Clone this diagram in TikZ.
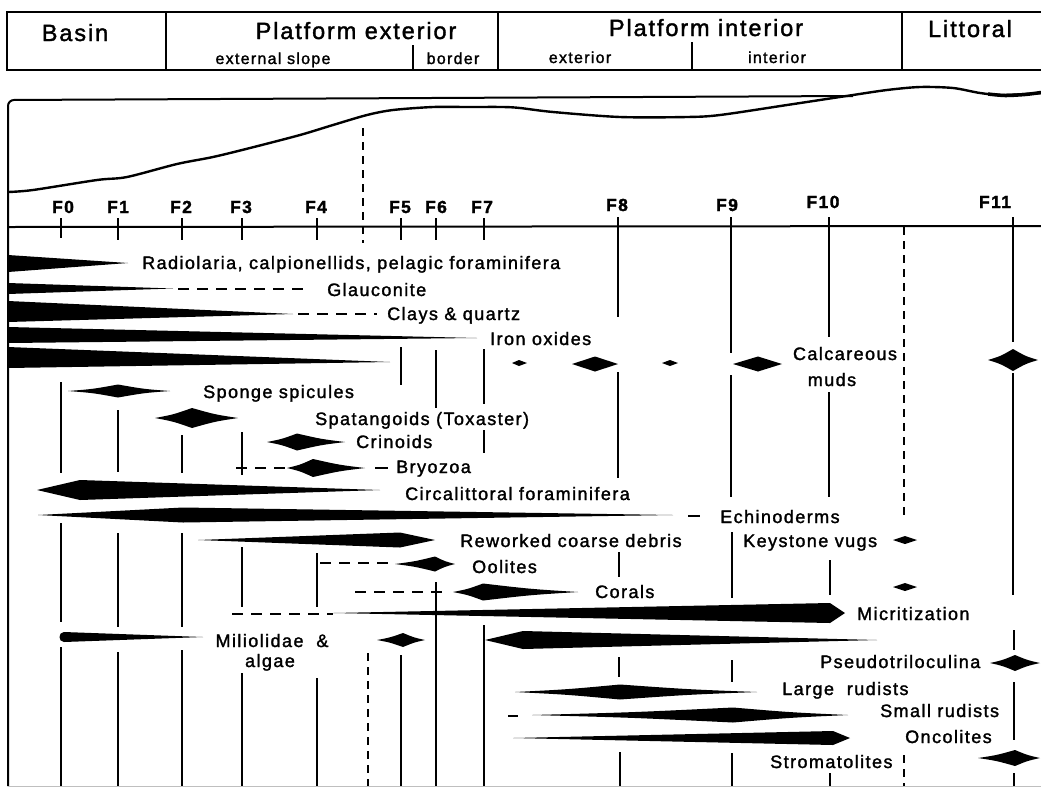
\documentclass[tikz,border=0pt]{standalone}
\usepackage{fontspec}
\setmainfont[LetterSpace=8,FakeBold=1.6]{Liberation Sans}
\newcommand\spdl[6]{\fill (#1,#4) .. controls ({(#1+#2)/2},{#4-#6*#5}) .. (#2,{#4-#5}) .. controls ({(#2+#3)/2},{#4-#6*#5}) .. (#3,#4) .. controls ({(#2+#3)/2},{#4+#6*#5}) .. (#2,{#4+#5}) .. controls ({(#1+#2)/2},{#4+#6*#5}) .. cycle;}
\begin{document}
\begin{tikzpicture}[x=1pt,y=-1pt,
  vl/.style={line width=2.2pt},
  vd/.style={line width=2.2pt,dash pattern=on 8pt off 6pt},
  hd/.style={line width=2pt,dash pattern=on 11pt off 8pt},
  frame/.style={line width=2pt},
  lbl/.style={font=\fontsize{18}{20}\selectfont,inner sep=0pt,anchor=base west},
  lblc/.style={font=\fontsize{18}{20}\selectfont,inner sep=0pt,anchor=base},
  hdr/.style={font=\fontsize{23.5}{26}\selectfont,inner sep=0pt,anchor=base},
  sublbl/.style={font=\fontsize{16}{18}\selectfont,inner sep=0pt,anchor=base},
  flb/.style={font=\bfseries\fontsize{17.5}{19}\selectfont,inner sep=0pt,anchor=base},
]
\useasboundingbox (0,0) rectangle (1041,788);
\fill[white] (0,0) rectangle (1041,788);

% ---------- header ----------
\draw[frame] (1041,12) -- (7,12) -- (7,70) -- (1041,70);
\draw[frame] (166,12) -- (166,70);
\draw[frame] (498,12) -- (498,70);
\draw[frame] (902,12) -- (902,70);
\draw[frame] (413,45) -- (413,70);
\draw[frame] (692,42) -- (692,70);
\node[hdr] (basin) at (75,41) {Basin};
\node[hdr] (pext) at (356,39) {Platform exterior};
\node[sublbl] (eslope) at (273,64) {external slope};
\node[sublbl] (border) at (453,64) {border};
\node[hdr] (pint) at (706,36) {Platform interior};
\node[sublbl] (exter) at (580,63) {exterior};
\node[sublbl] (inter) at (777,63) {interior};
\node[hdr] (litt) at (970,37) {Littoral};

% ---------- profile ----------
\draw[frame,rounded corners=6pt] (8,786) -- (8,100) -- (853,96);
\draw[line width=2.4pt] plot[smooth,tension=0.5] coordinates {(8,192) (33,190) (97,180) (127,177) (177,164) (213,157) (250,148) (300,135) (333,125) (367,115) (393,110) (433,107) (467,107) (503,107) (520,108) (553,112) (620,117) (687,117) (720,115) (787,105) (820,100) (853,95) (887,90) (920,87) (953,88) (980,93) (1003,95) (1041,93)};
\draw[line width=3.5pt] plot[smooth] coordinates {(988,94) (1005,95.5) (1025,94.5) (1041,92.5)};
\draw[vd] (363,128) -- (363,243);

% axis
\draw[frame] (8,227) -- (1041,226);
\foreach \x/\n/\lx/\ly in {61/0/63/213, 118/1/118/213, 182/2/181/213, 242/3/241/213, 317/4/316/213, 400/5/400/213, 436/6/436/213, 484/7/482/213, 618/8/617/211, 731/9/727/211, 829/10/823/208, 1013/11/995/208}
  \node[flb] (f\n) at (\lx,\ly) {F\n};

% ---------- vertical facies lines ----------
\foreach \x/\a/\b in {61/218/238, 61/382/473, 61/523/622, 61/647/786,
  118/218/240, 118/410/472, 118/533/627, 118/652/786,
  182/218/240, 182/435/473, 182/533/627, 182/650/786,
  242/218/240, 242/432/475, 242/547/607, 242/673/786,
  317/218/240, 317/553/607, 317/678/786,
  401/218/240, 401/347/385, 401/655/786,
  436/218/240, 436/350/408, 436/582/786,
  484/218/240, 484/349/404, 484/430/453, 484/625/786,
  618/217/317, 618/372/478, 619/552/577, 619/657/677, 620/752/786,
  731/217/353, 731/375/497, 732/532/598, 732/660/682, 732/753/786,
  829/217/337, 829/392/497, 830/560/595, 830/773/786,
  1013/217/342, 1013/373/595, 1014/630/650, 1014/682/740, 1014/773/786}
  \draw[vl] (\x,\a) -- (\x,\b);
\draw[vd] (904,227) -- (904,515);
\draw[vd] (904,755) -- (904,786);
\draw[vd] (368,653) -- (368,786);
\draw[gray!50,line width=1pt] (8,786) -- (1041,786);

% ---------- distributions ----------
% Radiolaria
\fill (8,255) -- (128,263) -- (8,272) -- cycle;
\node[lbl] (radio) at (142,269) {Radiolaria, calpionellids, pelagic foraminifera};
% Glauconite
\fill (8,283) -- (173,288.5) -- (8,294) -- cycle;
\draw[hd] (178,288.5) -- (307,288.5);
\node[lbl] (glauc) at (327,296) {Glauconite};
% Clays
\fill (8,301) -- (293,314) -- (8,322) -- cycle;
\draw[hd] (298,314) -- (377,314);
\node[lbl] (clays) at (387,320) {Clays \& quartz};
% Iron oxides
\fill (8,327) -- (477,338) -- (8,343) -- cycle;
\node[lbl] (iron) at (490,345) {Iron oxides};
% Calcareous muds
\fill (8,347) -- (390,362) -- (8,368) -- cycle;
\spdl{512}{519}{527}{363}{3}{0.5}
\spdl{572}{595}{618}{364}{7.5}{0.4}
\spdl{662}{670}{678}{363}{3}{0.5}
\spdl{733}{758}{782}{364}{7.5}{0.4}
\spdl{988}{1013}{1038}{360}{11}{0.35}
\node[lblc] (calc) at (845,360) {Calcareous};
\node[lblc] (muds) at (832,386) {muds};
% Sponge spicules
\spdl{68}{118}{170}{391}{6.5}{0.3}
\node[lbl] (sponge) at (203,398) {Sponge spicules};
% Spatangoids
\spdl{155}{192}{238}{418}{10}{0.35}
\node[lbl] (spat) at (315,425) {Spatangoids (Toxaster)};
% Crinoids
\spdl{267}{297}{345}{442}{8.5}{0.35}
\node[lbl] (crin) at (356,448) {Crinoids};
% Bryozoa
\draw[hd] (236,468) -- (287,468);
\spdl{287}{313}{365}{468}{9}{0.35}
\draw[frame] (375,468) -- (388,468);
\node[lbl] (bryo) at (396,473) {Bryozoa};
% Circalittoral foraminifera
\spdl{37}{80}{380}{490}{10}{0.5}
\node[lbl] (circ) at (405,500) {Circalittoral foraminifera};
% Echinoderms
\spdl{38}{183}{673}{515}{7.5}{0.45}
\draw[frame] (688,516) -- (700,516);
\node[lbl] (echin) at (720,523) {Echinoderms};
% Reworked coarse debris
\spdl{198}{400}{435}{540}{7.5}{0.4}
\node[lbl] (rework) at (460,547) {Reworked coarse debris};
% Keystone vugs
\spdl{893}{905}{917}{540}{4}{0.5}
\node[lbl] (keyst) at (743,547) {Keystone vugs};
% Oolites
\draw[hd] (320,563) -- (390,563);
\spdl{395}{435}{455}{564}{7.5}{0.35}
\node[lbl] (ool) at (472,573) {Oolites};
% Corals
\draw[hd] (355,592) -- (450,592);
\spdl{453}{483}{578}{592}{8.5}{0.35}
\spdl{893}{905}{917}{587}{4}{0.5}
\node[lbl] (coral) at (595,598) {Corals};
% Micritization
\draw[hd] (232,614) -- (333,614);
\spdl{333}{830}{845}{613}{10}{0.5}
\node[lbl] (micr) at (857,620) {Micritization};
% Miliolidae & algae
\fill (64,632) -- (203,637) -- (64,642) .. controls (58,642) and (58,632) .. (64,632) -- cycle;
\spdl{377}{403}{425}{640}{7}{0.35}
\node[lblc] (milio) at (272,647) {Miliolidae \ \&};
\node[lblc] (algae) at (270,667) {algae};
% Pseudotriloculina
\spdl{485}{523}{877}{640}{9}{0.5}
\spdl{990}{1015}{1040}{663}{8}{0.35}
\node[lbl] (pseudo) at (820,668) {Pseudotriloculina};
% Large rudists
\spdl{515}{620}{757}{692}{7.5}{0.35}
\node[lbl] (lrud) at (782,695) {Large \ rudists};
% Small rudists
\draw[frame] (508,716) -- (518,716);
\spdl{532}{733}{848}{715}{7.5}{0.35}
\node[lbl] (srud) at (880,717) {Small rudists};
% Oncolites
\spdl{513}{833}{850}{738}{7}{0.45}
\node[lbl] (onco) at (905,743) {Oncolites};
% Stromatolites
\spdl{978}{1015}{1040}{758}{8}{0.35}
\node[lbl] (strom) at (770,768) {Stromatolites};
\end{tikzpicture}
\end{document}
